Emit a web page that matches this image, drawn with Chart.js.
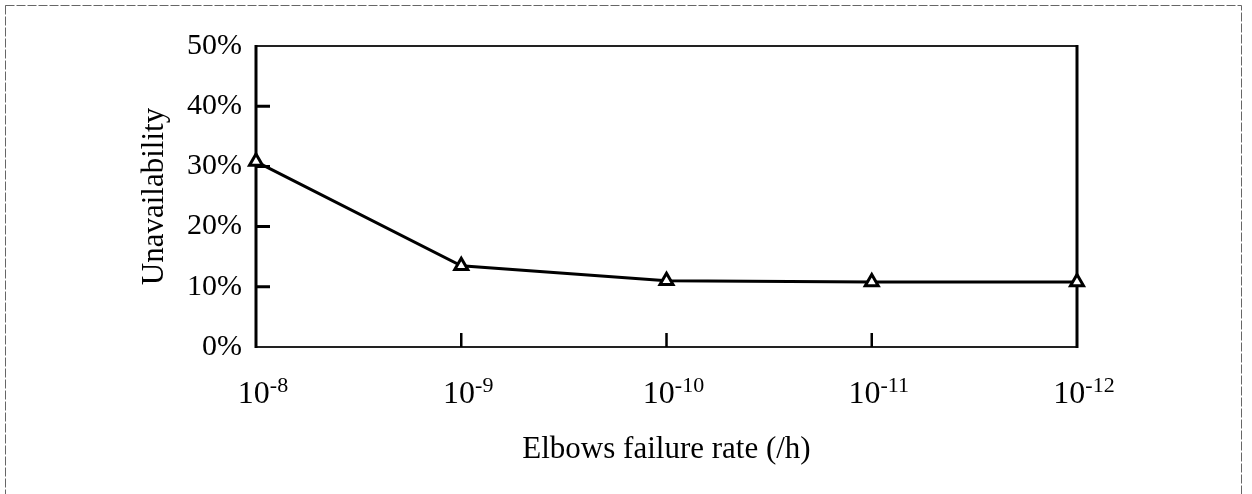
<!DOCTYPE html>
<html>
<head>
<meta charset="utf-8">
<script src="https://cdn.jsdelivr.net/npm/chart.js@4.4.1/dist/chart.umd.min.js"></script>
<style>
  html, body { margin: 0; padding: 0; background: #fff; }
  canvas { display: block; }
</style>
</head>
<body>
<canvas id="myChart" width="1252" height="494"></canvas>
<script>
// values
var rateBase = '10';
var rateExponents = ['-8', '-9', '-10', '-11', '-12'];  // elbows failure rate = 10^exp (/h)
var unavailability = [30.8, 13.5, 11.0, 10.8, 10.8];   // %
var yMin = 0, yMax = 50, yStep = 10;

var FONT = "'Liberation Serif', 'Times New Roman', serif";

// frame around the page, box around the plot, inward tick marks, x labels with exponent
var framePlugin = {
  id: 'frame',
  beforeDraw: function(chart) {
    var c = chart.ctx;
    c.save();
    c.fillStyle = '#fff';
    c.fillRect(0, 0, chart.width, chart.height);
    c.strokeStyle = '#666';
    c.lineWidth = 1;
    c.setLineDash([9, 2]);
    c.strokeRect(5.5, 5.5, 1236, 600);
    c.restore();
  },
  beforeDatasetsDraw: function(chart) {
    var a = chart.chartArea, c = chart.ctx;
    var xs = chart.scales.x, ys = chart.scales.y;
    c.save();
    c.strokeStyle = '#222';
    c.lineWidth = 2;
    c.beginPath();
    c.moveTo(a.left, a.top); c.lineTo(a.right, a.top);
    c.moveTo(a.left, a.bottom); c.lineTo(a.right, a.bottom);
    c.stroke();
    c.strokeStyle = '#000';
    c.lineWidth = 3;
    c.beginPath();
    c.moveTo(a.left, a.top - 1); c.lineTo(a.left, a.bottom + 1);
    c.moveTo(a.right, a.top - 1); c.lineTo(a.right, a.bottom + 1);
    // y ticks point into the plot
    ys.ticks.forEach(function(t) {
      if (t.value === yMin || t.value === yMax) return;
      var py = ys.getPixelForValue(t.value);
      c.moveTo(a.left, py); c.lineTo(a.left + 14, py);
    });
    c.stroke();
    c.lineWidth = 2.5;
    c.beginPath();
    for (var i = 1; i < rateExponents.length - 1; i++) {
      var px = xs.getPixelForTick(i);
      c.moveTo(px, a.bottom); c.lineTo(px, a.bottom - 14);
    }
    c.stroke();
    c.restore();
  },
  afterDraw: function(chart) {
    var a = chart.chartArea, c = chart.ctx, xs = chart.scales.x;
    c.save();
    c.fillStyle = '#000';
    c.textAlign = 'left';
    c.textBaseline = 'alphabetic';
    rateExponents.forEach(function(e, i) {
      var px = xs.getPixelForTick(i);
      c.font = '32px ' + FONT;
      var wb = c.measureText(rateBase).width;
      c.font = '22px ' + FONT;
      var we = c.measureText(e).width;
      var left = px - (wb + we) / 2 + 7;
      c.font = '32px ' + FONT;
      c.fillText(rateBase, left, a.bottom + 56);
      c.font = '22px ' + FONT;
      c.fillText(e, left + wb, a.bottom + 45);
    });
    c.restore();
  }
};

var ctx = document.getElementById('myChart').getContext('2d');
var chart = new Chart(ctx, {
  type: 'line',
  data: {
    labels: rateExponents,
    datasets: [{
      data: unavailability,
      borderColor: '#000',
      borderWidth: 3,
      tension: 0,
      pointStyle: 'triangle',
      pointRadius: 7.5,
      pointBorderWidth: 3,
      pointBorderColor: '#000',
      pointBackgroundColor: '#fff',
      clip: false
    }]
  },
  options: {
    responsive: false,
    animation: false,
    layout: { padding: { top: 46, right: 175, left: 0, bottom: 0 } },
    plugins: { legend: { display: false }, tooltip: { enabled: false } },
    scales: {
      x: {
        type: 'category',
        offset: false,
        grid: { display: false, drawTicks: false },
        border: { display: false },
        ticks: { display: false },
        title: {
          display: true,
          text: 'Elbows failure rate (/h)',
          color: '#000',
          font: { family: FONT, size: 31 },
          padding: { top: 0, bottom: 26 }
        },
        afterFit: function(s) { s.height = 147; }
      },
      y: {
        min: yMin,
        max: yMax,
        grid: { display: false, drawTicks: false },
        border: { display: false },
        ticks: {
          stepSize: yStep,
          color: '#000',
          padding: 14,
          font: { family: FONT, size: 30 },
          callback: function(v) { return v + '%'; }
        },
        title: {
          display: true,
          text: 'Unavailability',
          color: '#000',
          font: { family: FONT, size: 31 },
          padding: { top: 136, bottom: 0 }
        },
        afterFit: function(s) { s.width = 256; }
      }
    }
  },
  plugins: [framePlugin]
});
</script>
</body>
</html>
